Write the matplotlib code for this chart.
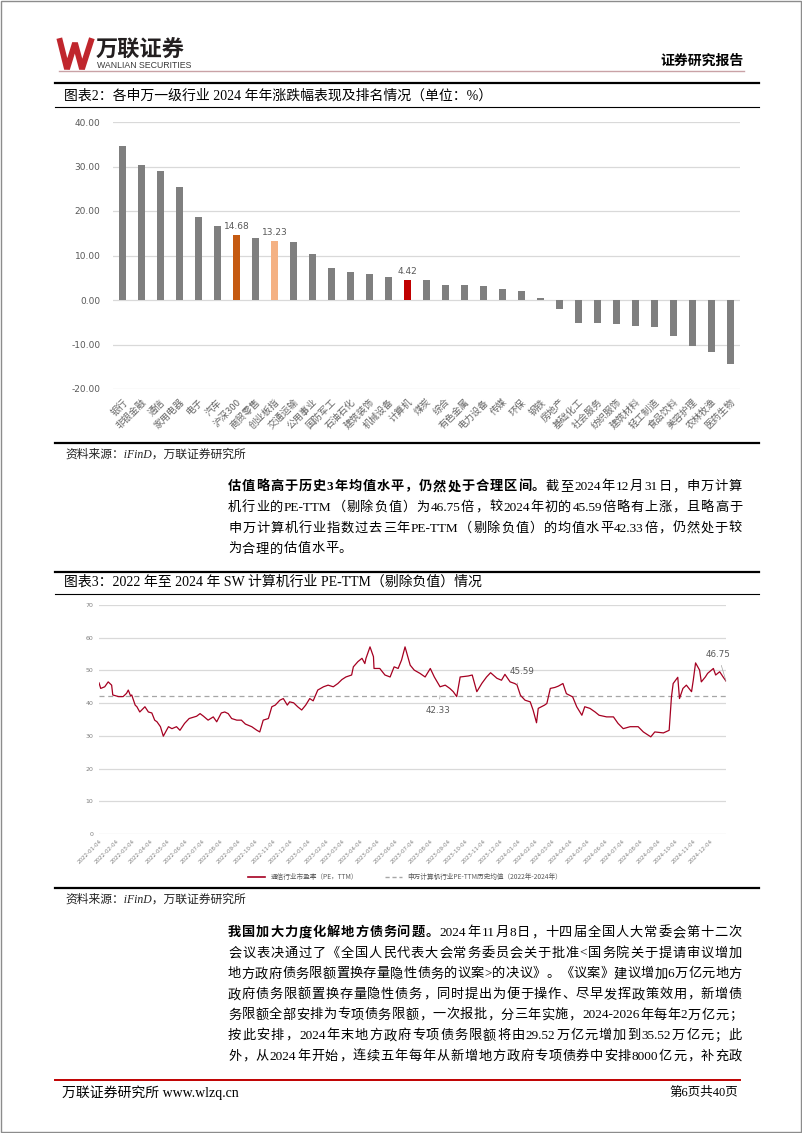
import re
import matplotlib
matplotlib.use('Agg')
import matplotlib.pyplot as plt
import matplotlib.dates as mdates
from matplotlib.lines import Line2D
from matplotlib.patches import Rectangle
from matplotlib.ticker import FormatStrFormatter
import numpy as np
import pandas as pd

plt.rcParams['font.family'] = ['Liberation Serif', 'Noto Sans CJK SC', 'DejaVu Sans']
plt.rcParams['axes.unicode_minus'] = False

# ---------------- 数据 ----------------
industries = ['银行', '非银金融', '通信', '家用电器', '电子', '汽车', '沪深300', '商贸零售',
              '创业板指', '交通运输', '公用事业', '国防军工', '石油石化', '建筑装饰', '机械设备',
              '计算机', '煤炭', '综合', '有色金属', '电力设备', '传媒', '环保', '钢铁', '房地产',
              '基础化工', '社会服务', '纺织服饰', '建筑材料', '轻工制造', '食品饮料', '美容护理',
              '农林牧渔', '医药生物']
changes = [34.6, 30.3, 28.9, 25.5, 18.6, 16.6, 14.68, 13.9,
           13.23, 13.1, 10.3, 7.2, 6.4, 5.8, 5.2,
           4.42, 4.40, 3.4, 3.3, 3.1, 2.4, 2.0, 0.4, -2.1,
           -5.1, -5.2, -5.3, -5.8, -6.0, -8.0, -10.3,
           -11.6, -14.3]
highlight = {'沪深300': '#C55A11', '创业板指': '#F4B183', '计算机': '#C00000'}

pe_dates = [
    '2022-01-04', '2022-01-07', '2022-01-14', '2022-01-20', '2022-01-26', '2022-01-28',
    '2022-02-07', '2022-02-15', '2022-02-21', '2022-02-24', '2022-02-28', '2022-03-02',
    '2022-03-08', '2022-03-11', '2022-03-16', '2022-03-25', '2022-03-31', '2022-04-06',
    '2022-04-11', '2022-04-15', '2022-04-21', '2022-04-26', '2022-05-05', '2022-05-11',
    '2022-05-19', '2022-05-25', '2022-06-02', '2022-06-10', '2022-06-23', '2022-06-29',
    '2022-07-05', '2022-07-13', '2022-07-22', '2022-07-28', '2022-08-05', '2022-08-11',
    '2022-08-17', '2022-08-23', '2022-09-01', '2022-09-09', '2022-09-16', '2022-09-27',
    '2022-10-06', '2022-10-11', '2022-10-17', '2022-10-26', '2022-11-01', '2022-11-07',
    '2022-11-15', '2022-11-21', '2022-11-28', '2022-12-02', '2022-12-09', '2022-12-16',
    '2022-12-23', '2022-12-30',
    '2023-01-06', '2023-01-12', '2023-01-20', '2023-01-30', '2023-02-07', '2023-02-16',
    '2023-02-24', '2023-03-03', '2023-03-10', '2023-03-20', '2023-03-23', '2023-03-31',
    '2023-04-07', '2023-04-12', '2023-04-14', '2023-04-21', '2023-04-27', '2023-04-28',
    '2023-05-08', '2023-05-17', '2023-05-26', '2023-06-02', '2023-06-09', '2023-06-15',
    '2023-06-21', '2023-06-30', '2023-07-07', '2023-07-17', '2023-07-26', '2023-08-04',
    '2023-08-11', '2023-08-21', '2023-08-30', '2023-09-07', '2023-09-13', '2023-09-19',
    '2023-09-25', '2023-10-09', '2023-10-16', '2023-10-24', '2023-11-02', '2023-11-10',
    '2023-11-17', '2023-11-28', '2023-12-06', '2023-12-12', '2023-12-21', '2023-12-29',
    '2024-01-02', '2024-01-08', '2024-01-16', '2024-01-25', '2024-01-30', '2024-02-05',
    '2024-02-08', '2024-02-19', '2024-02-23', '2024-02-29', '2024-03-08', '2024-03-14',
    '2024-03-22', '2024-03-28', '2024-04-08', '2024-04-15', '2024-04-24', '2024-04-29',
    '2024-05-08', '2024-05-17', '2024-05-24', '2024-06-06', '2024-06-18', '2024-06-26',
    '2024-07-05', '2024-07-17', '2024-07-31', '2024-08-09', '2024-08-22', '2024-08-29',
    '2024-09-13', '2024-09-23', '2024-09-27', '2024-09-30', '2024-10-08', '2024-10-11',
    '2024-10-17', '2024-10-23', '2024-11-01', '2024-11-04', '2024-11-08', '2024-11-15',
    '2024-11-18', '2024-11-25', '2024-11-29', '2024-12-09', '2024-12-13', '2024-12-20',
    '2024-12-26', '2024-12-31']
pe_values = [
    46.2, 44.5, 45.0, 46.5, 45.5, 42.5,
    42.0, 42.0, 43.0, 44.0, 42.2, 42.5,
    39.4, 38.9, 37.3, 38.9, 37.3, 37.0,
    34.8, 34.3, 32.8, 29.9, 32.8, 32.2,
    32.8, 31.7, 33.8, 35.3, 36.0, 36.8,
    36.0, 34.8, 35.8, 34.3, 37.0, 37.3,
    36.8, 35.3, 34.8, 34.8, 33.6, 32.8,
    31.7, 31.2, 34.8, 35.3, 38.9, 39.4,
    40.9, 41.4, 39.4, 40.4, 40.1, 38.9,
    37.9, 39.4,
    41.4, 40.7, 44.0, 45.0, 45.5, 45.0,
    46.0, 47.2, 48.0, 48.6, 51.1, 52.7,
    53.7, 52.1, 53.7, 57.2, 54.2, 50.6,
    50.6, 48.6, 48.0, 51.1, 50.6, 53.2,
    57.2, 51.6, 50.1, 49.1, 48.0, 50.6,
    48.0, 45.0, 45.5, 44.5, 43.5, 42.0,
    48.0, 48.3, 48.6, 43.5, 46.1, 48.0,
    49.3, 47.6, 47.0, 48.8, 46.5, 46.0,
    45.59, 42.4, 40.9, 40.4, 37.9, 34.0,
    38.4, 39.4, 39.9, 44.5, 44.8, 45.2,
    46.0, 42.9, 41.9, 38.9, 36.3, 38.9,
    38.4, 37.3, 36.3, 35.8, 35.8, 33.8,
    32.2, 32.8, 32.8, 31.2, 29.7, 31.2,
    30.9, 31.7, 41.9, 46.0, 47.9, 41.4,
    44.5, 45.5, 43.5, 47.0, 52.3, 50.1,
    46.5, 48.0, 49.1, 50.6, 48.6, 49.6,
    48.0, 46.75]
pe_mean = 42.33
pe_labels = [('2024-01-02', 45.59), ('2023-08-21', 42.33), ('2024-12-31', 46.75)]

para1 = [
    [('估值略高于历史3年均值水平，仍然处于合理区间。', True), ('截至2024年12月31日，申万计算', False)],
    [('机行业的PE-TTM（剔除负值）为46.75倍，较2024年初的45.59倍略有上涨，且略高于', False)],
    [('申万计算机行业指数过去三年PE-TTM（剔除负值）的均值水平42.33倍，仍然处于较', False)],
    [('为合理的估值水平。', False)],
]
para2 = [
    [('我国加大力度化解地方债务问题。', True), ('2024年11月8日，十四届全国人大常委会第十二次', False)],
    [('会议表决通过了《全国人民代表大会常务委员会关于批准<国务院关于提请审议增加', False)],
    [('地方政府债务限额置换存量隐性债务的议案>的决议》。《议案》建议增加6万亿元地方', False)],
    [('政府债务限额置换存量隐性债务，同时提出为便于操作、尽早发挥政策效用，新增债', False)],
    [('务限额全部安排为专项债务限额，一次报批，分三年实施，2024-2026年每年2万亿元；', False)],
    [('按此安排，2024年末地方政府专项债务限额将由29.52万亿元增加到35.52万亿元；此', False)],
    [('外，从2024年开始，连续五年每年从新增地方政府专项债券中安排8000亿元，补充政', False)],
]

# ---------------- 页面 ----------------
W, H = 802, 1133
fig = plt.figure(figsize=(W / 100, H / 100), dpi=100)
fig.patch.set_facecolor('white')


def fx(x):
    return x / W


def fy(y):
    return 1 - y / H


def hline(y, x0, x1, lw, color='black'):
    fig.add_artist(Line2D([fx(x0), fx(x1)], [fy(y), fy(y)], lw=lw, color=color,
                          transform=fig.transFigure))


def para_line(y, segs, x0=228, x1=742, size=9.5, justify=True):
    r = fig.canvas.get_renderer()
    toks = []
    for s, bold in segs:
        for t in re.findall(r'[A-Za-z0-9.\-]+|.', s):
            toks.append(fig.text(0, fy(y), t, fontsize=size, va='center',
                                 fontweight='bold' if bold else 'normal'))
    widths = [t.get_window_extent(r).width for t in toks]
    gap = (x1 - x0 - sum(widths)) / (len(toks) - 1) if justify else 0.6
    x = x0
    for t, w in zip(toks, widths):
        t.set_x(fx(x))
        x += w + gap


# 外框
fig.add_artist(Rectangle((0.001, 0.001), 0.998, 0.998, fill=False, ec='#8C8C8C', lw=1,
                         transform=fig.transFigure))

# 页眉
fig.add_artist(Line2D([fx(60), fx(67), fx(75), fx(82), fx(91)],
                      [fy(41), fy(69), fy(43), fy(69), fy(41)],
                      lw=4.2, color='#C0262D', solid_joinstyle='bevel',
                      transform=fig.transFigure))
fig.text(fx(96), fy(50), '万联证券', fontsize=16, fontweight='bold', va='center',
         family=['Noto Sans CJK SC'], color='#231F20')
fig.text(fx(97), fy(66), 'WANLIAN SECURITIES', fontsize=6.3, va='center',
         family=['Liberation Sans'], color='#3A3A3A')
fig.text(fx(744), fy(61), '证券研究报告', fontsize=10, fontweight='bold', ha='right', va='center')
hline(71, 59, 744, 1.0, '#C9A2A6')

# 图表2 标题
hline(83, 55, 759, 1.6)
fig.text(fx(64), fy(96), '图表2：各申万一级行业 2024 年年涨跌幅表现及排名情况（单位：%）',
         fontsize=10, va='center')
hline(107, 55, 759, 0.8)

# 柱状图
ax1 = fig.add_axes([fx(113), fy(389), (740 - 113) / W, (389 - 122) / H])
x = np.arange(len(industries))
colors = [highlight.get(n, '#7F7F7F') for n in industries]
ax1.bar(x, changes, width=0.36, color=colors, zorder=3)
ax1.set_xlim(-0.5, len(industries) - 0.5)
ax1.set_ylim(-20, 40)
ax1.set_yticks(np.arange(-20, 41, 10))
ax1.yaxis.set_major_formatter(FormatStrFormatter('%.2f'))
ax1.grid(axis='y', color='#D9D9D9', lw=0.9, zorder=0)
for sp in ax1.spines.values():
    sp.set_visible(False)
ax1.tick_params(axis='y', length=0, labelsize=6.5, labelcolor='#595959', pad=9)
ax1.tick_params(axis='x', length=0, pad=6)
ax1.set_xticks(x)
ax1.set_xticklabels(industries, rotation=45, ha='right', va='top', rotation_mode='anchor',
                    fontsize=6.8, color='#666666', family=['Noto Sans CJK SC'])
for lab in ax1.get_yticklabels():
    lab.set_family(['DejaVu Sans'])
for i, n in enumerate(industries):
    if n in highlight:
        ax1.annotate('%.2f' % changes[i], (i, changes[i]), xytext=(0, 3),
                     textcoords='offset points', ha='center', va='bottom',
                     fontsize=6.5, color='#595959', family=['DejaVu Sans'])

hline(443, 55, 759, 1.6)
fig.text(fx(65), fy(455), '资料来源：iFinD，万联证券研究所', fontsize=8.5, va='center',
         style='italic', color='#222222')

# 段落一
for k, segs in enumerate(para1):
    para_line(487 + k * 20.8, segs, justify=(k < len(para1) - 1))

# 图表3 标题
hline(572, 55, 759, 1.6)
fig.text(fx(64), fy(582), '图表3：2022 年至 2024 年 SW 计算机行业 PE-TTM（剔除负值）情况',
         fontsize=10, va='center')
hline(594, 55, 759, 0.8)

# 折线图
ax2 = fig.add_axes([fx(99), fy(834), (726 - 99) / W, (834 - 605) / H])
d = pd.to_datetime(pe_dates)
ax2.plot(d, pe_values, color='#A50021', lw=0.9, zorder=3)
ax2.axhline(pe_mean, color='#A6A6A6', lw=0.9, ls=(0, (4, 3)), zorder=2)
ax2.set_xlim(pd.Timestamp('2022-01-04'), pd.Timestamp('2024-12-31'))
ax2.set_ylim(0, 70)
ax2.set_yticks(np.arange(0, 71, 10))
ax2.grid(axis='y', color='#D9D9D9', lw=0.9, zorder=0)
for sp in ax2.spines.values():
    sp.set_visible(False)
ticks = pd.date_range('2022-01-04', periods=36, freq=pd.DateOffset(months=1))
ax2.set_xticks(ticks)
ax2.xaxis.set_major_formatter(mdates.DateFormatter('%Y-%m-%d'))
ax2.tick_params(axis='y', length=0, labelsize=4.5, labelcolor='#7F7F7F', pad=4)
ax2.tick_params(axis='x', length=0, labelsize=4, labelcolor='#7F7F7F', pad=3)
for lab in ax2.get_xticklabels():
    lab.set_rotation(45)
    lab.set_ha('right')
    lab.set_va('top')
    lab.set_rotation_mode('anchor')
for lab in ax2.get_xticklabels() + ax2.get_yticklabels():
    lab.set_family(['DejaVu Sans'])

offsets = [(3.6, 9.4), (-1.4, -10.8), (-5.8, 19.4)]
for (ds, v), off in zip(pe_labels, offsets):
    ax2.annotate('%.2f' % v, (pd.Timestamp(ds), v), xytext=off, textcoords='offset points',
                 ha='center', va='center', fontsize=6.3, color='#595959', family=['DejaVu Sans'],
                 arrowprops=dict(arrowstyle='-', color='#A6A6A6', lw=0.5, shrinkA=3, shrinkB=0))

handles = [Line2D([], [], color='#A50021', lw=1.2),
           Line2D([], [], color='#A6A6A6', lw=1.0, ls=(0, (3, 2)))]
fig.legend(handles, ['通信行业市盈率（PE，TTM）', '申万计算机行业PE-TTM历史均值（2022年-2024年）'],
           loc='center', bbox_to_anchor=(fx(405), fy(877)), ncol=2, frameon=False,
           prop={'family': ['Noto Sans CJK SC'], 'size': 4.8}, handlelength=2.6,
           columnspacing=4, labelcolor='#595959')

hline(888, 55, 759, 1.6)
fig.text(fx(65), fy(900), '资料来源：iFinD，万联证券研究所', fontsize=8.5, va='center',
         style='italic', color='#222222')

# 段落二
for k, segs in enumerate(para2):
    para_line(933 + k * 20.6, segs)

# 页脚
hline(1080, 55, 740, 1.4, '#C00000')
fig.text(fx(62), fy(1093), '万联证券研究所 www.wlzq.cn', fontsize=10, va='center')
fig.text(fx(738), fy(1093), '第6页共40页', fontsize=9, va='center', ha='right')

fig.savefig('out.png', dpi=100)
